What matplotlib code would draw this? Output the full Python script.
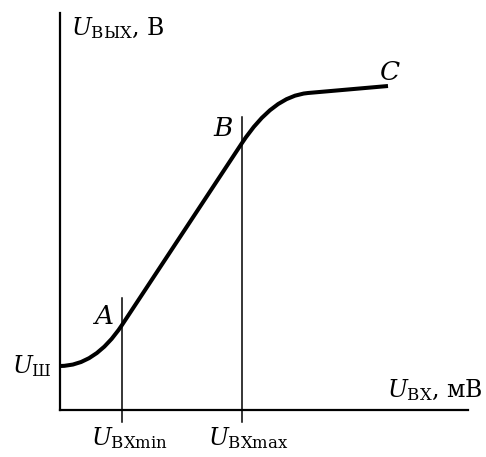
import matplotlib
matplotlib.use("Agg")
import matplotlib.pyplot as plt
from matplotlib.path import Path
from matplotlib.patches import PathPatch

plt.rcParams['mathtext.fontset'] = 'custom'
plt.rcParams['mathtext.rm'] = 'DejaVu Serif'
plt.rcParams['mathtext.it'] = 'DejaVu Serif:italic'
plt.rcParams['font.family'] = 'DejaVu Serif'

# Schematic transfer characteristic (arbitrary units)
curve_x = [0, 35, 62, 182, 213, 248, 328]
curve_y = [44, 44, 85, 267, 314, 317, 324]
curve_codes = [Path.MOVETO, Path.CURVE3, Path.CURVE3, Path.LINETO,
               Path.CURVE3, Path.CURVE3, Path.LINETO]

u_in_min = 62
u_in_max = 182
marker_top = [112, 293]

point_labels = ['A', 'B', 'C']
point_x = [43, 163, 330]
point_y = [94, 282, 338]

fig = plt.figure(figsize=(4.86, 4.57), dpi=100)
ax = fig.add_axes([60/486, (457-410)/457, 408/486, 397/457])
ax.set_xlim(0, 408)
ax.set_ylim(0, 397)
ax.set_xticks([])
ax.set_yticks([])
for s in ['top', 'right']:
    ax.spines[s].set_visible(False)
for s in ['left', 'bottom']:
    ax.spines[s].set_linewidth(1.6)

path = Path(list(zip(curve_x, curve_y)), curve_codes)
ax.add_patch(PathPatch(path, facecolor='none', edgecolor='black', lw=2.9,
                       capstyle='butt', clip_on=False))

for xv, top in zip([u_in_min, u_in_max], marker_top):
    ax.plot([xv, xv], [-12, top], color='black', lw=1.1, clip_on=False)

for lab, px, py in zip(point_labels, point_x, point_y):
    ax.text(px, py, f'${lab}$', fontsize=19, ha='center', va='center')

fs = 17
ax.text(11, 382, r'$U_{\mathrm{ВЫХ}}$, В', fontsize=fs, ha='left', va='center')
ax.text(423, 13, r'$U_{\mathrm{ВХ}}$, мВ', fontsize=fs, ha='right', va='baseline')
ax.text(-8, 44, r'$U_{\mathrm{Ш}}$', fontsize=fs, ha='right', va='center')
ax.text(70, -35, r'$U_{\mathrm{ВХmin}}$', fontsize=fs, ha='center', va='baseline')
ax.text(188, -35, r'$U_{\mathrm{ВХmax}}$', fontsize=fs, ha='center', va='baseline')

fig.savefig('out.png', dpi=100)
